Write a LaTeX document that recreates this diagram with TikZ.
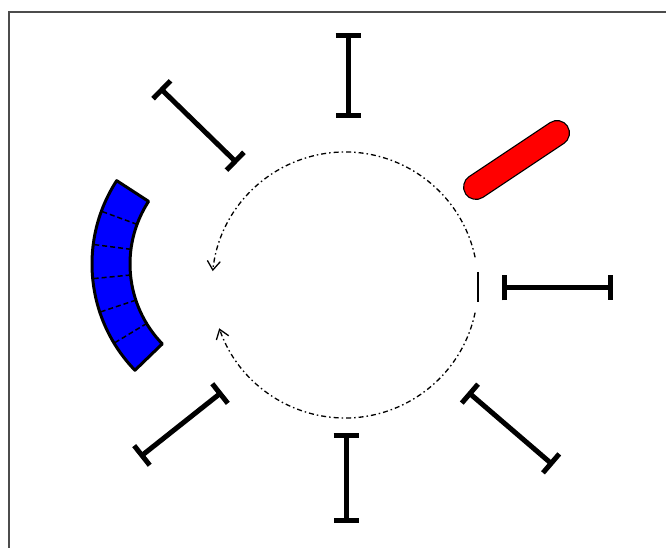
\documentclass[tikz,border=0pt]{standalone}
\usetikzlibrary{arrows.meta}
\tikzset{
  inhib/.style={line width=5pt, {Bar[width=25pt,line width=5pt]}-{Bar[width=25pt,line width=5pt]}},
  cyc/.style={line width=1.3pt, dash pattern=on 5pt off 3pt on 1.5pt off 3pt, -{Straight Barb[length=9pt,width=13pt,line width=1.3pt]}},
  divider/.style={line width=1.5pt, dash pattern=on 5pt off 3pt},
  frameline/.style={line width=2pt, black!70},
}
\begin{document}
\begin{tikzpicture}[x=1pt,y=1pt]
\useasboundingbox (0,0) rectangle (666,548);
% frame (top and left only)
\draw[frameline] (9,0) -- (9,535.5) -- (666,535.5);

% cycle circle
\coordinate (c) at (345,263);
\draw[cyc] ([shift={(c)}]12:133) arc[start angle=12, end angle=174, radius=133];
\draw[cyc] ([shift={(c)}]-12:133) arc[start angle=-12, end angle=-161, radius=133];
\coordinate (s1) at (478,276);
\coordinate (s2) at (478,246);
\draw[line width=1.5pt] (s1) -- (s2);

% inhibitor bars
\coordinate (t1) at (348,515); \coordinate (t2) at (348,430);
\coordinate (b1) at (346,115); \coordinate (b2) at (346,25);
\coordinate (r1) at (502,260); \coordinate (r2) at (613,260);
\coordinate (tl1) at (160,460); \coordinate (tl2) at (237,385);
\coordinate (bl1) at (140,91); \coordinate (bl2) at (222,156);
\coordinate (br1) at (468,156); \coordinate (br2) at (553,83);
\draw[inhib] (t1) -- (t2);
\draw[inhib] (b1) -- (b2);
\draw[inhib] (r1) -- (r2);
\draw[inhib] (tl1) -- (tl2);
\draw[inhib] (bl1) -- (bl2);
\draw[inhib] (br1) -- (br2);

% red pill
\coordinate (p1) at (476,361); \coordinate (p2) at (557,415);
\draw[line width=26pt, line cap=round, black] (p1) -- (p2);
\draw[line width=23.5pt, line cap=round, red] (p1) -- (p2);

% blue segmented arc
\coordinate (bc) at (245,284);
\draw[line width=3pt, fill=blue, line join=round]
  ([shift={(bc)}]147:153) arc[start angle=147, end angle=224, radius=153]
  -- ([shift={(bc)}]224:115) arc[start angle=224, end angle=147, radius=115] -- cycle;
\foreach \k in {1,...,5} {
  \pgfmathsetmacro{\ang}{147+77*\k/6}
  \draw[divider] ([shift={(bc)}]\ang:115) -- ([shift={(bc)}]\ang:153);
}
\end{tikzpicture}
\end{document}
